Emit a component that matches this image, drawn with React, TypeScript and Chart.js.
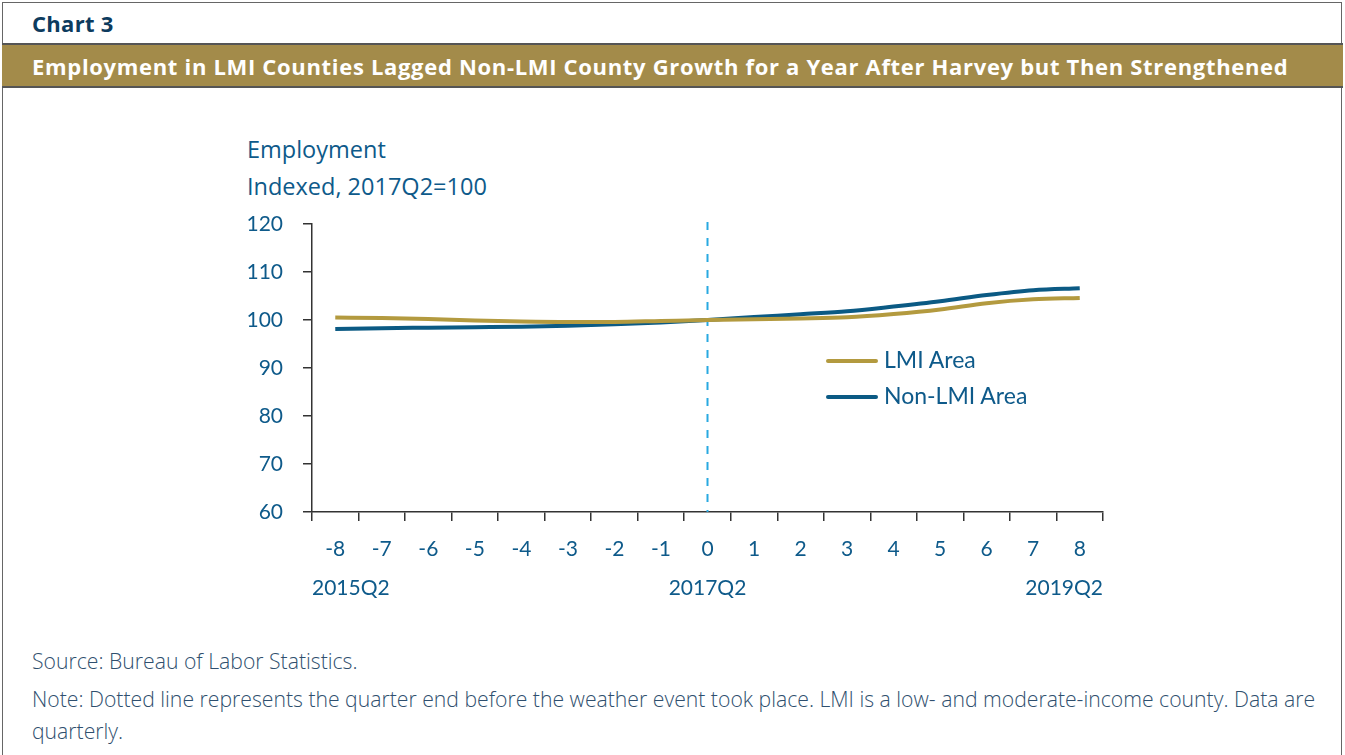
import React, { useEffect, useRef } from "react";
import { Chart, registerables } from "chart.js";

Chart.register(...registerables);

const quarters = ["-8", "-7", "-6", "-5", "-4", "-3", "-2", "-1", "0", "1", "2", "3", "4", "5", "6", "7", "8"];
const lmiArea = [100.5, 100.4, 100.2, 99.9, 99.7, 99.6, 99.6, 99.8, 100.0, 100.15, 100.3, 100.55, 101.25, 102.2, 103.5, 104.3, 104.6];
const nonLmiArea = [98.1, 98.3, 98.4, 98.5, 98.6, 98.8, 99.1, 99.5, 100.0, 100.6, 101.2, 101.8, 102.8, 103.9, 105.2, 106.2, 106.6];
const dateLabels = ["2015Q2", "2017Q2", "2019Q2"];
const eventIndex = 8;

const FONT = "Lato, 'Noto Sans', sans-serif";
const FONT2 = "'Open Sans', 'Noto Sans', sans-serif";
const AXIS_COLOR = "#0e5a8a";
const GOLD = "#b39a3f";
const NAVY = "#0b5a84";

export default function App() {
  const canvasRef = useRef<HTMLCanvasElement | null>(null);

  useEffect(() => {
    if (!canvasRef.current) return;
    const extraPlugin = {
      id: "extras",
      beforeDatasetsDraw(chart: any) {
        const { ctx, chartArea, scales } = chart;
        const x = scales.x.getPixelForValue(eventIndex);
        ctx.save();
        ctx.strokeStyle = "#29a9e1";
        ctx.lineWidth = 2;
        ctx.setLineDash([8, 8]);
        ctx.beginPath();
        ctx.moveTo(x, chartArea.top - 2);
        ctx.lineTo(x, chartArea.bottom);
        ctx.stroke();
        ctx.restore();
      },
      afterDraw(chart: any) {
        const { ctx, chartArea, scales } = chart;
        const y = 588 - 200;
        ctx.save();
        ctx.font = "21px " + FONT;
        ctx.fillStyle = AXIS_COLOR;
        ctx.textBaseline = "middle";
        ctx.textAlign = "left";
        ctx.fillText(dateLabels[0], chartArea.left, y);
        ctx.textAlign = "center";
        ctx.fillText(dateLabels[1], scales.x.getPixelForValue(eventIndex), y);
        ctx.textAlign = "right";
        ctx.fillText(dateLabels[2], chartArea.right, y);
        ctx.restore();
      },
    };
    const chart = new Chart(canvasRef.current, {
      type: "line",
      data: {
        labels: quarters,
        datasets: [
          {
            label: "LMI Area",
            data: lmiArea,
            borderColor: GOLD,
            borderWidth: 4,
            pointRadius: 0,
            tension: 0.4,
            cubicInterpolationMode: "monotone",
          },
          {
            label: "Non-LMI Area",
            data: nonLmiArea,
            borderColor: NAVY,
            borderWidth: 4,
            pointRadius: 0,
            tension: 0.4,
            cubicInterpolationMode: "monotone",
          },
        ],
      },
      options: {
        animation: false,
        responsive: false,
        maintainAspectRatio: false,
        layout: { padding: { top: 24, right: 2, bottom: 0, left: 0 } },
        plugins: { legend: { display: false }, tooltip: { enabled: false } },
        scales: {
          x: {
            offset: true,
            grid: {
              offset: true,
              drawOnChartArea: false,
              drawTicks: true,
              tickLength: 9,
              color: "#333",
              lineWidth: 1.5,
            },
            border: { display: true, color: "#333", width: 1.5 },
            ticks: {
              color: AXIS_COLOR,
              font: { family: FONT, size: 21 },
              padding: 16,
              maxRotation: 0,
              autoSkip: false,
            },
            afterFit(scale: any) {
              scale.height = 108;
              scale.paddingLeft = 0;
              scale.paddingRight = 0;
            },
          },
          y: {
            min: 60,
            max: 120,
            ticks: {
              stepSize: 10,
              color: AXIS_COLOR,
              font: { family: FONT, size: 21 },
              padding: 20,
            },
            grid: {
              drawOnChartArea: false,
              drawTicks: true,
              tickLength: 9,
              color: "#333",
              lineWidth: 1.5,
            },
            border: { display: true, color: "#333", width: 1.5 },
            afterFit(scale: any) {
              scale.width = 82;
              scale.paddingTop = 0;
              scale.paddingBottom = 0;
            },
          },
        },
      },
      plugins: [extraPlugin],
    } as any);
    return () => chart.destroy();
  }, []);

  const text = (s: React.CSSProperties): React.CSSProperties => ({
    position: "absolute",
    fontFamily: FONT,
    whiteSpace: "nowrap",
    lineHeight: 1,
    ...s,
  });

  return (
    <div
      style={{
        position: "absolute",
        left: 0,
        top: 0,
        width: 1345,
        height: 755,
        background: "#fff",
        overflow: "hidden",
      }}
    >
      <div
        style={{
          position: "absolute",
          left: 2,
          top: 2,
          width: 1340,
          height: 760,
          border: "1px solid #666",
          boxSizing: "border-box",
        }}
      />
      <div style={text({ left: 32, top: 12, fontSize: 22, fontWeight: 700, letterSpacing: 0.3, color: "#0d3b5e", fontFamily: FONT2 })}>Chart 3</div>
      <div
        style={{
          position: "absolute",
          left: 2,
          top: 43,
          width: 1341,
          height: 45,
          background: "#a38b4a",
          borderTop: "2px solid #555",
          borderBottom: "2px solid #555",
          boxSizing: "border-box",
        }}
      />
      <div style={text({ left: 32, top: 55, fontSize: 22, fontWeight: 700, letterSpacing: 0.68, color: "#fff", fontFamily: FONT2 })}>
        Employment in LMI Counties Lagged Non-LMI County Growth for a Year After Harvey but Then Strengthened
      </div>
      <div style={text({ left: 247, top: 138, fontSize: 23.5, color: AXIS_COLOR, fontFamily: FONT2 })}>Employment</div>
      <div style={text({ left: 247, top: 175, fontSize: 23.5, color: AXIS_COLOR, fontFamily: FONT2 })}>Indexed, 2017Q2=100</div>
      <canvas
        ref={canvasRef}
        width={875}
        height={420}
        style={{ position: "absolute", left: 230, top: 200, width: 875, height: 420 }}
      />
      <div style={{ position: "absolute", left: 826, top: 359, width: 52, height: 4, background: GOLD, borderRadius: 2 }} />
      <div style={text({ left: 884, top: 348, fontSize: 23, color: AXIS_COLOR })}>LMI Area</div>
      <div style={{ position: "absolute", left: 826, top: 395, width: 52, height: 4, background: NAVY, borderRadius: 2 }} />
      <div style={text({ left: 884, top: 384, fontSize: 23, color: AXIS_COLOR })}>Non-LMI Area</div>
      <div style={text({ left: 32, top: 650, fontSize: 21.2, fontWeight: 300, color: "#2f4f6e", fontFamily: FONT2 })}>
        Source: Bureau of Labor Statistics.
      </div>
      <div style={text({ left: 32, top: 688, fontSize: 21.2, fontWeight: 300, color: "#2f4f6e", fontFamily: FONT2 })}>
        Note: Dotted line represents the quarter end before the weather event took place. LMI is a low- and moderate-income county. Data are
      </div>
      <div style={text({ left: 32, top: 720, fontSize: 21.2, fontWeight: 300, color: "#2f4f6e", fontFamily: FONT2 })}>quarterly.</div>
    </div>
  );
}
